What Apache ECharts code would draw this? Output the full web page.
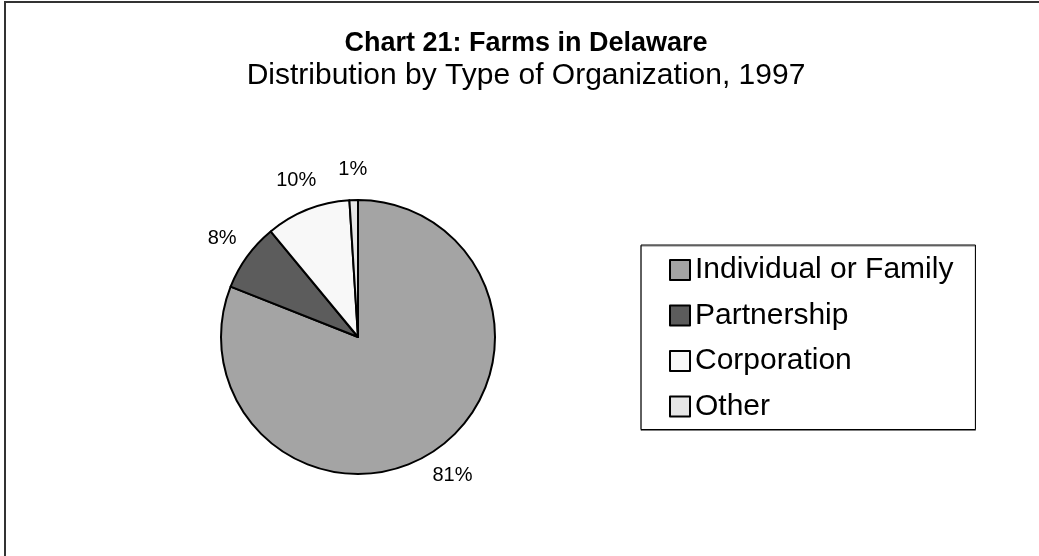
<!DOCTYPE html>
<html>
<head>
<meta charset="utf-8">
<title>Chart 21: Farms in Delaware</title>
<script src="https://cdn.jsdelivr.net/npm/echarts@6/dist/echarts.min.js"></script>
<style>
    html, body { margin: 0; padding: 0; background: #fff; }
    #main { width: 1039px; height: 556px; }
</style>
</head>
<body>
<div id="main"></div>
<script>
    // 数据
    const categories = ['Individual or Family', 'Partnership', 'Corporation', 'Other'];
    const shares = [81, 8, 10, 1];

    const titleText = 'Chart 21: Farms in Delaware';
    const subtitleText = 'Distribution by Type of Organization, 1997';

    const sliceColors = ['#a4a4a4', '#5c5c5c', '#f8f8f8', '#e6e6e6'];
    const font = '"Liberation Sans", Arial, sans-serif';

    let pieData = categories.map((name, i) => ({
        name: name,
        value: shares[i],
        itemStyle: { color: sliceColors[i] }
    }));

    var myChart = echarts.init(document.getElementById('main'));
    let option = {
        animation: false,
        backgroundColor: '#fff',
        title: [
            {
                text: titleText,
                left: 526,
                top: 30,
                textAlign: 'center',
                padding: 0,
                textStyle: { fontFamily: font, fontSize: 27, lineHeight: 27, fontWeight: 'bold', color: '#000' }
            },
            {
                text: subtitleText,
                left: 526,
                top: 61,
                textAlign: 'center',
                padding: 0,
                textStyle: { fontFamily: font, fontSize: 30, lineHeight: 30, fontWeight: 'normal', color: '#000' }
            }
        ],
        legend: {
            orient: 'vertical',
            left: 641,
            top: 245,
            padding: [10, 22, 8, 28],
            itemGap: 15.5,
            itemWidth: 20,
            itemHeight: 20,
            icon: 'rect',
            borderColor: '#000',
            borderWidth: 1,
            shadowColor: 'rgba(0,0,0,0.5)',
            shadowOffsetY: 1,
            shadowOffsetX: 0,
            shadowBlur: 0,
            selectedMode: false,
            itemStyle: { borderColor: '#000', borderWidth: 2 },
            textStyle: { fontFamily: font, fontSize: 30, color: '#000', lineHeight: 30 },
            data: categories
        },
        graphic: [
            {
                type: 'rect',
                shape: { x: 5, y: 2, width: 1200, height: 700 },
                style: { fill: null, stroke: '#333', lineWidth: 2 },
                silent: true
            }
        ],
        series: [
            {
                name: 'Farms',
                type: 'pie',
                center: [358, 337],
                radius: 137,
                startAngle: 90,
                clockwise: true,
                silent: true,
                itemStyle: { borderColor: '#000', borderWidth: 2 },
                label: { show: false },
                labelLine: { show: false },
                data: pieData
            },
            {
                // 只用来放百分比标签
                name: 'labels',
                type: 'pie',
                center: [358, 337],
                radius: [155, 175],
                startAngle: 90,
                clockwise: true,
                silent: true,
                itemStyle: { color: 'rgba(0,0,0,0)', borderWidth: 0 },
                label: {
                    show: true,
                    position: 'inside',
                    formatter: '{c}%',
                    fontFamily: font,
                    fontSize: 20,
                    color: '#000'
                },
                labelLine: { show: false },
                data: categories.map((name, i) => ({ name: name, value: shares[i] }))
            }
        ]
    };
    myChart.setOption(option);
</script>
</body>
</html>
